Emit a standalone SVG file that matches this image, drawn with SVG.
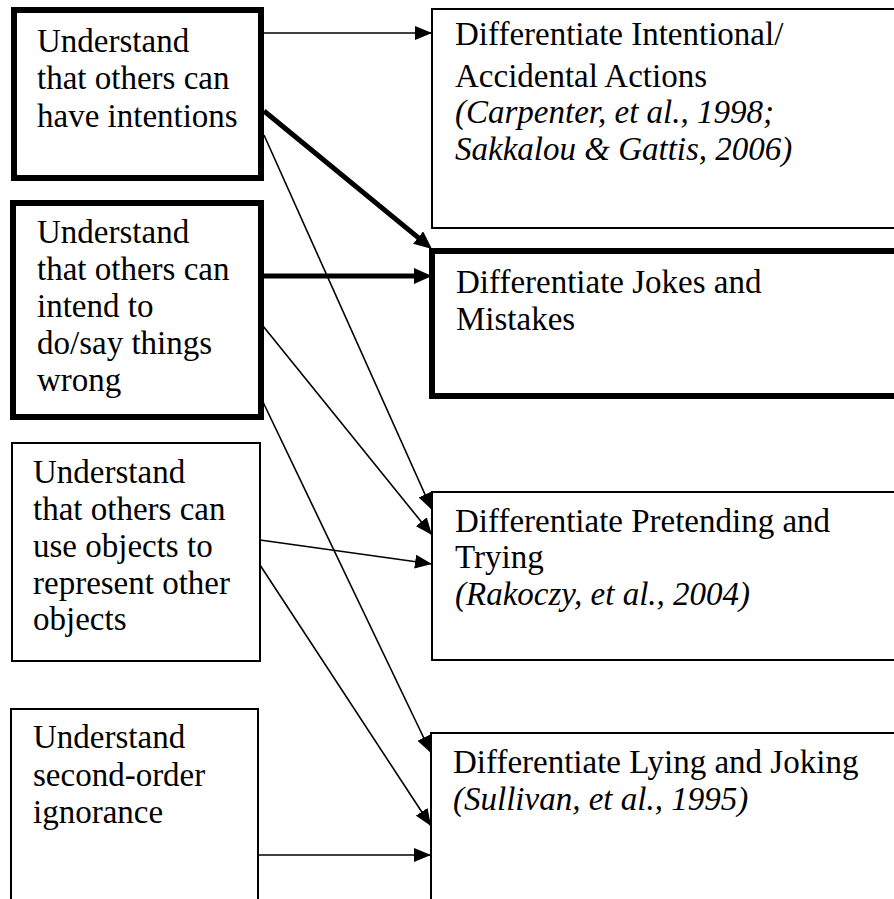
<svg xmlns="http://www.w3.org/2000/svg" width="894" height="899" viewBox="0 0 894 899">
<style>
.thin{fill:#fff;stroke:#000;stroke-width:2}
.thick{fill:#fff;stroke:#000;stroke-width:6}
.it{font-style:italic}
.c{stroke:#000;fill:none;stroke-width:1.6}
.ct{stroke:#000;fill:none;stroke-width:5}
</style>
<defs>
<marker id="ah" markerUnits="userSpaceOnUse" markerWidth="17" markerHeight="14" viewBox="0 0 17 14" refX="17" refY="7" orient="auto"><path d="M0,0 L17,7 L0,14 z" fill="#000"/></marker>
<marker id="ahT" markerUnits="userSpaceOnUse" markerWidth="18" markerHeight="16" viewBox="0 0 18 16" refX="8" refY="8" orient="auto"><path d="M0,0 L18,8 L0,16 z" fill="#000"/></marker>
</defs>
<rect x="0" y="0" width="894" height="899" fill="#fff"/>
<g font-family="Liberation Serif" font-size="33" fill="#000">
<g id="n1"><rect class="thick" x="14" y="10" width="247" height="168"/>
<text x="37" y="52">Understand</text><text x="37" y="89">that others can</text><text x="37" y="127">have intentions</text></g>
<g id="n2"><rect class="thick" x="13" y="203" width="248" height="214"/>
<text x="37" y="243">Understand</text><text x="37" y="280">that others can</text><text x="37" y="317">intend to</text><text x="37" y="354">do/say things</text><text x="37" y="391">wrong</text></g>
<g id="n3"><rect class="thin" x="12" y="443" width="248" height="218"/>
<text x="33" y="483">Understand</text><text x="33" y="520">that others can</text><text x="33" y="557">use objects to</text><text x="33" y="594">represent other</text><text x="33" y="630">objects</text></g>
<g id="n4"><rect class="thin" x="11" y="709" width="247" height="200"/>
<text x="33" y="748">Understand</text><text x="33" y="786">second-order</text><text x="33" y="823">ignorance</text></g>
<g id="r1"><rect class="thin" x="432" y="9" width="470" height="219"/>
<text x="455" y="45">Differentiate Intentional/</text><text x="455" y="87">Accidental Actions</text><text class="it" x="455" y="123">(Carpenter, et al., 1998;</text><text class="it" x="455" y="160">Sakkalou &amp; Gattis, 2006)</text></g>
<g id="r2"><rect class="thick" x="432" y="251" width="470" height="145"/>
<text x="456" y="293">Differentiate Jokes and</text><text x="456" y="330">Mistakes</text></g>
<g id="r3"><rect class="thin" x="432" y="492" width="470" height="168"/>
<text x="455" y="532">Differentiate Pretending and</text><text x="455" y="568">Trying</text><text class="it" x="455" y="605">(Rakoczy, et al., 2004)</text></g>
<g id="r4"><rect class="thin" x="431" y="733" width="470" height="200"/>
<text x="453" y="773">Differentiate Lying and Joking</text><text class="it" x="453" y="810">(Sullivan, et al., 1995)</text></g>
</g>
<g id="connectors">
<line class="c" x1="264" y1="33" x2="432" y2="33" marker-end="url(#ah)"/>
<line class="ct" x1="264" y1="111" x2="424.3" y2="242.6" marker-end="url(#ahT)"/>
<line class="c" x1="264" y1="135" x2="432" y2="510" marker-end="url(#ah)"/>
<line class="ct" x1="264" y1="276" x2="422" y2="276" marker-end="url(#ahT)"/>
<line class="c" x1="263" y1="326" x2="432" y2="535" marker-end="url(#ah)"/>
<line class="c" x1="263" y1="402" x2="431" y2="753" marker-end="url(#ah)"/>
<line class="c" x1="260" y1="540" x2="432" y2="564" marker-end="url(#ah)"/>
<line class="c" x1="260" y1="565" x2="431" y2="826" marker-end="url(#ah)"/>
<line class="c" x1="258" y1="855" x2="431" y2="855" marker-end="url(#ah)"/>
</g>
</svg>
